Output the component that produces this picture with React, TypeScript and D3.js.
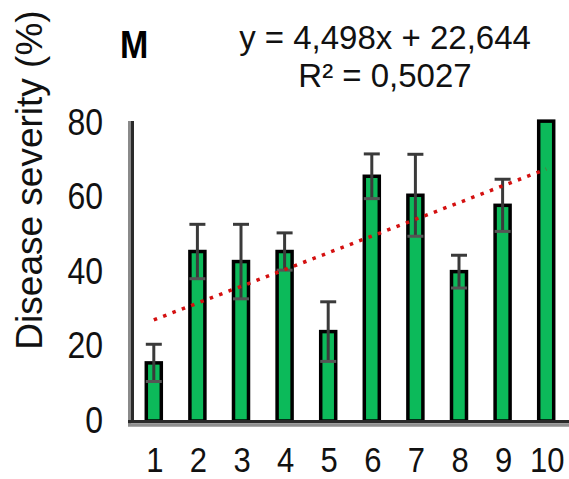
import React from 'react';
import * as d3 from 'd3';

const width = 569;
const height = 479;
const margin = { top: 123, right: 1, bottom: 58, left: 132 };

const categories = ['1', '2', '3', '4', '5', '6', '7', '8', '9', '10'];
const severity = [15.6, 45.5, 42.8, 45.5, 24, 65.7, 60.6, 40.1, 57.9, 80.5];
const errors = [5, 7.3, 10, 5, 8, 6, 11, 4.4, 7, 0];
const yTicks = [0, 20, 40, 60, 80];
const trendCoef = [4.498, 22.644]; // slope, intercept
const equationLines = ['y = 4,498x + 22,644', 'R² = 0,5027'];

const font = '"Liberation Sans", Arial, sans-serif';
const stretch = 1.14; // text in the picture is a bit taller than wide

const App = () => {
  const x = d3
    .scaleBand()
    .domain(categories)
    .range([margin.left, width - margin.right])
    .paddingInner(0)
    .paddingOuter(0);
  const y = d3
    .scaleLinear()
    .domain([0, 80])
    .range([height - margin.bottom, margin.top]);

  const barW = 15;
  const cx = (c) => x(c) + x.bandwidth() / 2;

  // trend line from first to last category
  const trend = d3
    .line()
    .x((d) => d[0])
    .y((d) => d[1])([
      [cx(categories[0]), y(trendCoef[0] * 1 + trendCoef[1])],
      [cx(categories[9]), y(trendCoef[0] * 10 + trendCoef[1])],
    ]);

  const bars = categories.map((c, i) => {
    const v = severity[i];
    const e = errors[i];
    const xc = cx(c);
    return (
      <g key={c}>
        <rect
          x={xc - barW / 2}
          y={y(v)}
          width={barW}
          height={y(0) - y(v)}
          fill="#0cba5a"
          stroke="#000"
          strokeWidth={3.5}
        />
        {e > 0 && (
          <g stroke="#3a3a3a" strokeWidth={3}>
            <line x1={xc} x2={xc} y1={y(v + e)} y2={y(v - e)} />
            <line x1={xc - 8} x2={xc + 8} y1={y(v + e)} y2={y(v + e)} />
            <line x1={xc - 8} x2={xc + 8} y1={y(v - e)} y2={y(v - e)} stroke="#555" />
          </g>
        )}
      </g>
    );
  });

  return (
    <svg
      width={width}
      height={height}
      style={{ position: 'absolute', left: 0, top: 0, background: '#fff' }}
      fontFamily={font}
    >
      {/* axes */}
      <line x1={129.5} x2={129.5} y1={121} y2={425} stroke="#8a8a8a" strokeWidth={3} />
      <line x1={132.5} x2={132.5} y1={121} y2={423} stroke="#2a2a2a" strokeWidth={3} />
      {bars}
      <line x1={128} x2={width} y1={421.7} y2={421.7} stroke="#2a2a2a" strokeWidth={3.3} />
      <line x1={128} x2={width} y1={425} y2={425} stroke="#8f8f8f" strokeWidth={3.3} />

      {/* trend line */}
      <path d={trend} fill="none" stroke="#d41010" strokeWidth={3.5} strokeDasharray="3.5 6.5" />

      {/* y ticks */}
      {yTicks.map((t) => (
        <text
          key={t}
          transform={`translate(103, ${y(t) + 11.5}) scale(1, ${stretch})`}
          textAnchor="end"
          fontSize={32}
          fill="#111"
        >
          {t}
        </text>
      ))}

      {/* x ticks */}
      {categories.map((c) => (
        <text
          key={c}
          transform={`translate(${cx(c) + 1}, 472) scale(1, ${stretch})`}
          textAnchor="middle"
          fontSize={31}
          fill="#111"
        >
          {c}
        </text>
      ))}

      {/* y label */}
      <text
        transform="translate(42, 180) rotate(-90)"
        textAnchor="middle"
        fontSize={37}
        fill="#111"
      >
        Disease severity (%)
      </text>

      {/* panel letter */}
      <text
        transform={`translate(120, 58) scale(1, ${stretch})`}
        fontSize={34}
        fontWeight="bold"
        fill="#000"
      >
        M
      </text>

      {/* equation */}
      {equationLines.map((s, i) => (
        <text
          key={s}
          x={385}
          y={49 + i * 38}
          textAnchor="middle"
          fontSize={33}
          fill="#111"
        >
          {s}
        </text>
      ))}
    </svg>
  );
};

export default App;
